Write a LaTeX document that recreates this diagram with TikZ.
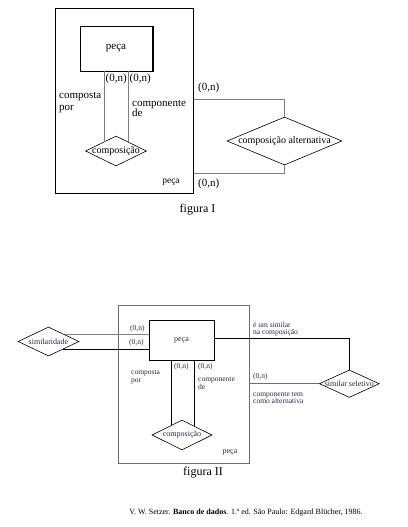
\documentclass[tikz,border=0pt]{standalone}
\usepackage{fontspec}
\setmainfont{Liberation Serif}
\usetikzlibrary{shapes.geometric,calc}
\definecolor{lgray}{RGB}{128,128,128}
\definecolor{bgray}{RGB}{110,110,110}
\definecolor{labc}{RGB}{40,40,70}
\begin{document}
\begin{tikzpicture}[x=1pt,y=-1pt,
  boxA/.style={draw=black,line width=1.0pt,inner sep=0pt},
  entA/.style={draw=black,line width=0.8pt,inner sep=0pt},
  dia/.style={draw=black,diamond,inner sep=0pt,line width=0.6pt},
  connA/.style={draw=lgray,line width=0.8pt},
  connB/.style={draw=black,line width=0.75pt},
  connBg/.style={draw=lgray,line width=0.7pt},
  labA/.style={font=\fontsize{11}{11.5}\selectfont,align=left,inner sep=0pt},
  labB/.style={font=\fontsize{7.5}{7.6}\selectfont,align=left,inner sep=0pt,text=labc},
  txtB/.style={font=\fontsize{8}{8}\selectfont,inner sep=0pt,text=labc}]
\useasboundingbox (0,0) rectangle (407,527);
\fill[white] (0,0) rectangle (407,527);

% ---------- figura I ----------
\node[boxA,minimum width=138pt,minimum height=184pt] (box1) at (124,101) {};
\node[entA,minimum width=72pt,minimum height=45pt,font=\fontsize{11}{11}\selectfont] (peca1) at (116,48.5) {peça};
\draw[line width=1.8pt] ([xshift=0.3pt]peca1.north east) -- ([xshift=0.3pt]peca1.south east);
\draw[line width=1.2pt] ([xshift=1.2pt]peca1.south east) -- (peca1.south west);
\node[dia,minimum width=61pt,minimum height=30pt,
  label={[font=\fontsize{10}{10}\selectfont,inner sep=0pt]center:composição}] (comp1) at (116,151) {};
\node[dia,minimum width=115pt,minimum height=48pt,
  label={[font=\fontsize{10}{10}\selectfont,inner sep=0pt]center:composição alternativa}] (alt) at (284.5,141) {};

\coordinate (a1) at ($(comp1.north)!0.39!(comp1.west)$);
\coordinate (a2) at ($(comp1.north)!0.39!(comp1.east)$);
\draw[connA] (a1) -- (a1 |- peca1.south);
\draw[connA] (a2) -- (a2 |- peca1.south);
\draw[connA] (alt.north) |- ([yshift=2pt]box1.east);
\draw[connA] (alt.south) |- ([yshift=20pt]box1.south east);

\node[labA,anchor=west] (n1) at (105.5,79) {(0,n)};
\node[labA,anchor=west] (n2) at (129.5,79) {(0,n)};
\node[labA,anchor=west] (cp1) at (59,102.5) {composta\\por};
\node[labA,anchor=west,font=\fontsize{11}{10}\selectfont] (cd1) at (132,108) {componente\\de};
\node[labA,anchor=west] (n3) at (198,88) {(0,n)};
\node[labA,anchor=west] (n4) at (198,184) {(0,n)};
\node[font=\fontsize{9.5}{9.5}\selectfont,inner sep=0pt] (pc1) at (171,182) {peça};
\node[font=\fontsize{12}{12}\selectfont,inner sep=0pt] (fig1) at (197.5,210) {figura I};

% ---------- figura II ----------
\node[draw=bgray,line width=0.8pt,inner sep=0pt,minimum width=131pt,minimum height=158pt] (box2) at (183.5,384) {};
\node[entA,line width=0.75pt,minimum width=65pt,minimum height=40pt,font=\fontsize{8}{8}\selectfont,text=labc] (peca2) at (181.5,340) {peça};
\node[dia,minimum width=61pt,minimum height=29pt,
  label={[txtB]center:similaridade}] (sim) at (48.5,341.5) {};
\node[dia,minimum width=60pt,minimum height=27.5pt,
  label={[txtB]center:similar seletivo}] (sel) at (349.3,383.7) {};
\node[dia,minimum width=60pt,minimum height=30pt,
  label={[txtB]center:composição}] (comp2) at (182,435) {};

\coordinate (s1) at ($(sim.north)!0.55!(sim.east)$);
\coordinate (s2) at ($(sim.south)!0.46!(sim.east)$);
\draw[connBg] (s1) -- (s1 -| peca2.west);
\draw[connB] (s2) -- (s2 -| peca2.west);
\draw[connB] ([yshift=2pt]peca2.east) -| (sel.north);
\draw[connB,draw=bgray] (sel.west) -- (sel.west -| box2.east);
\coordinate (b1) at ($(comp2.north)!0.367!(comp2.west)$);
\coordinate (b2) at ($(comp2.north)!0.4!(comp2.east)$);
\draw[connB] (b1) -- (b1 |- peca2.south);
\draw[connB] (b2) -- (b2 |- peca2.south);

\node[labB,anchor=west] (m1) at (130,329) {(0,n)};
\node[labB,anchor=west] (m2) at (129,343) {(0,n)};
\node[labB,anchor=west] (m3) at (253,329) {é um similar\\na composição};
\node[labB,anchor=west] (m4) at (253,377) {(0,n)};
\node[labB,anchor=west] (m5) at (253,398) {componente tem\\como alternativa};
\node[labB,anchor=west] (m6) at (131,377) {composta\\por};
\node[labB,anchor=west] (m7) at (174,367) {(0,n)};
\node[labB,anchor=west] (m8) at (198,367) {(0,n)};
\node[labB,anchor=west] (m9) at (198,383.5) {componente\\de};
\node[txtB] (pc2) at (230,452) {peça};
\node[font=\fontsize{12}{12}\selectfont,inner sep=0pt] (fig2) at (203,473) {figura II};

\node[font=\fontsize{8}{8}\selectfont,inner sep=0pt] (cit) at (246,513) {V. W. Setzer. \textbf{Banco de dados}. 1.ª ed. São Paulo: Edgard Blücher, 1986.};
\end{tikzpicture}
\end{document}
